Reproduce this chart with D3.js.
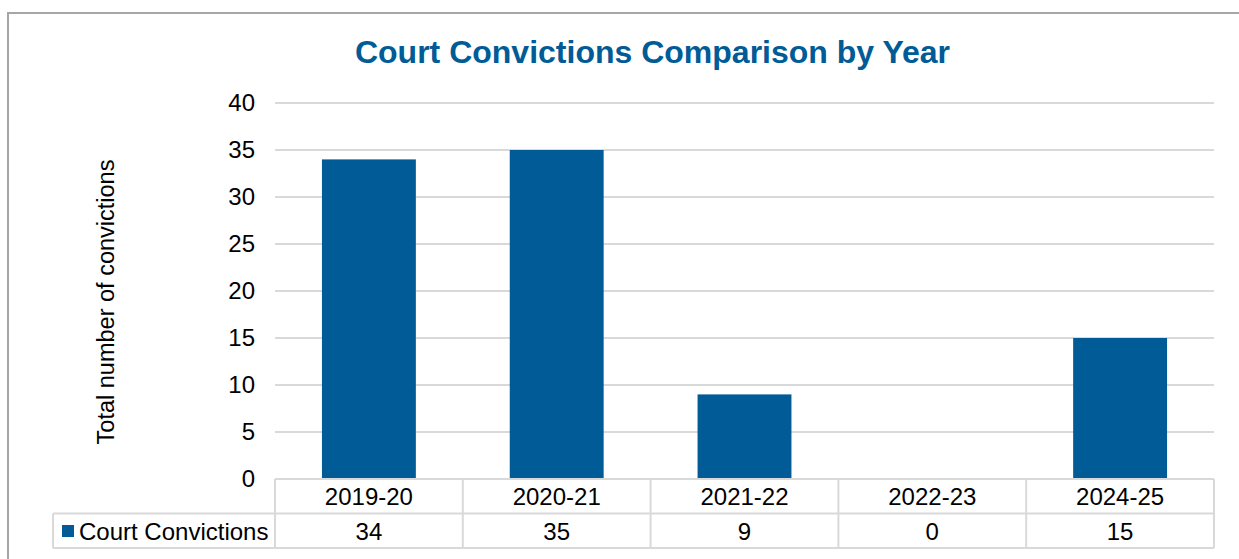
<!DOCTYPE html>
<html>
<head>
<meta charset="utf-8">
<script src="https://d3js.org/d3.v7.min.js"></script>
<style>
  body { margin: 0; background: #fff; }
  text { font-family: "Liberation Sans", Arial, sans-serif; fill: #000; }
</style>
</head>
<body>
<div id="container"></div>
<script>

// chart data
var categories = ["2019-20", "2020-21", "2021-22", "2022-23", "2024-25"];
var convictions = [34, 35, 9, 0, 15];
var yTicks = [0, 5, 10, 15, 20, 25, 30, 35, 40];
var seriesName = "Court Convictions";

var W = 1239, H = 559;
var blue = "#005b96", grid = "#d9d9d9";

var svg = d3.select("#container").append("svg")
    .attr("width", W)
    .attr("height", H);

// outer frame (only top and left show inside the window)
svg.append("rect")
    .attr("x", 8).attr("y", 13)
    .attr("width", W + 20).attr("height", H + 20)
    .attr("fill", "none")
    .attr("stroke", "#a6a6a6")
    .attr("stroke-width", 2);

var plotLeft = 275, plotRight = 1214, plotTop = 103, plotBottom = 479;

var x = d3.scaleBand()
    .domain(categories)
    .range([plotLeft, plotRight])
    .paddingInner(0.5)
    .paddingOuter(0.25);

var y = d3.scaleLinear()
    .domain([0, 40])
    .range([plotBottom, plotTop]);

// title
svg.append("text")
    .attr("x", 652.5)
    .attr("y", 63)
    .attr("text-anchor", "middle")
    .style("font-size", "32px")
    .style("font-weight", "bold")
    .style("fill", blue)
    .text("Court Convictions Comparison by Year");

// gridlines
svg.append("g").selectAll("line")
    .data(yTicks)
  .enter().append("line")
    .attr("x1", plotLeft).attr("x2", plotRight)
    .attr("y1", function(d) { return y(d); })
    .attr("y2", function(d) { return y(d); })
    .attr("stroke", grid)
    .attr("stroke-width", 2);

// y axis labels
var yAxis = svg.append("g")
    .attr("transform", "translate(" + plotLeft + ",0)")
    .call(d3.axisLeft(y).tickValues(yTicks).tickSize(0).tickPadding(20));
yAxis.select(".domain").remove();
yAxis.selectAll("text")
    .style("font-size", "24px")
    .style("font-family", "'Liberation Sans', Arial, sans-serif")
    .attr("fill", "#000");

svg.append("text")
    .attr("transform", "translate(114,302) rotate(-90)")
    .attr("text-anchor", "middle")
    .style("font-size", "23.5px")
    .text("Total number of convictions");

// bars
svg.append("g").selectAll("rect")
    .data(categories)
  .enter().append("rect")
    .attr("x", function(d) { return x(d); })
    .attr("y", function(d, i) { return y(convictions[i]); })
    .attr("width", x.bandwidth())
    .attr("height", function(d, i) { return plotBottom - y(convictions[i]); })
    .attr("fill", blue);

// data table
var step = x.step(), off = (step - x.bandwidth()) / 2;
var row1 = 479, row2 = 513.5, row3 = 548;
var tbl = svg.append("g")
    .attr("stroke", grid)
    .attr("stroke-width", 2);

tbl.append("line").attr("x1", plotLeft).attr("x2", plotRight).attr("y1", row1).attr("y2", row1);
tbl.append("line").attr("x1", 53).attr("x2", plotRight).attr("y1", row2).attr("y2", row2);
tbl.append("line").attr("x1", 53).attr("x2", plotRight).attr("y1", row3).attr("y2", row3);
tbl.append("line").attr("x1", 53).attr("x2", 53).attr("y1", row2).attr("y2", row3);
tbl.selectAll(".vline")
    .data(categories)
  .enter().append("line")
    .attr("x1", function(d) { return x(d) - off; })
    .attr("x2", function(d) { return x(d) - off; })
    .attr("y1", row1).attr("y2", row3);
tbl.append("line").attr("x1", plotRight).attr("x2", plotRight).attr("y1", row1).attr("y2", row3);

svg.append("g").selectAll("text")
    .data(categories)
  .enter().append("text")
    .attr("x", function(d) { return x(d) + x.bandwidth() / 2; })
    .attr("y", 505)
    .attr("text-anchor", "middle")
    .style("font-size", "24px")
    .text(function(d) { return d; });

svg.append("g").selectAll("text")
    .data(categories)
  .enter().append("text")
    .attr("x", function(d) { return x(d) + x.bandwidth() / 2; })
    .attr("y", 539.5)
    .attr("text-anchor", "middle")
    .style("font-size", "24px")
    .text(function(d, i) { return convictions[i]; });

// legend key in table
svg.append("rect")
    .attr("x", 62).attr("y", 525)
    .attr("width", 12).attr("height", 12)
    .attr("fill", blue);
svg.append("text")
    .attr("x", 79).attr("y", 539.5)
    .style("font-size", "24px")
    .text(seriesName);

</script>
</body>
</html>
